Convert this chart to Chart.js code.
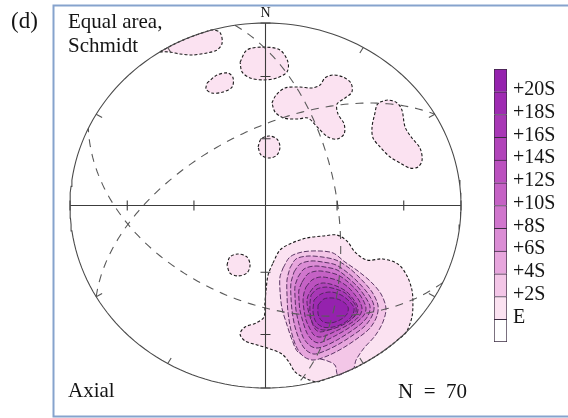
<!DOCTYPE html>
<html>
<head>
<meta charset="utf-8">
<title>Equal area, Schmidt – Axial</title>
<script src="https://cdn.jsdelivr.net/npm/chart.js@4.4.1/dist/chart.umd.min.js"></script>
<style>
  html, body { margin: 0; padding: 0; background: #ffffff; }
  #stage { position: relative; width: 568px; height: 418px; overflow: hidden; }
  #net { position: absolute; left: 0; top: 0; }
  #scale { position: absolute; left: 480px; top: 50px; }
</style>
</head>
<body>
<div id="stage">
  <canvas id="net" width="568" height="418"></canvas>
  <canvas id="scale" width="88" height="310"></canvas>
</div>
<script>
// ---------------- data ----------------
const sampleCount = 70;

// contour levels (boundaries of the colour key, bottom to top)
const levelLabels = ['E', '+2S', '+4S', '+6S', '+8S', '+10S', '+12S', '+14S', '+16S', '+18S', '+20S'];
// fill colour of each band: index 0 = below E, 11 = above +20S
const levelColors = ['#ffffff', '#fbe2f1', '#f3c6e7', '#e7a6dd', '#db8dd5', '#d076cd', '#c562c5',
                     '#bb51bf', '#b144ba', '#a838b6', '#9e2bb2', '#9522ae'];

// plunges marked on the N-S and E-W diameters, and trends marked on the primitive
const axisTickPlunges = [30, 60];
const rimTickTrends = [30, 60, 120, 150, 210, 240, 300, 330];

// great circles (dip direction / dip, degrees)
const planeDipDirections = [81, 205, 330];
const planeDips = [60, 46, 57];

// density contours, in projected net coordinates (primitive radius = 1, x east, y north)
const patchNorthWest = [[-0.540, 0.842], [-0.463, 0.886], [-0.386, 0.922], [-0.309, 0.951], [-0.275, 0.962],
  [-0.233, 0.948], [-0.222, 0.890], [-0.248, 0.852], [-0.299, 0.836], [-0.371, 0.825], [-0.437, 0.830], [-0.491, 0.841]];
const patchNorth = [[-0.130, 0.786], [-0.095, 0.852], [-0.013, 0.868], [0.074, 0.852], [0.115, 0.786],
  [0.110, 0.732], [0.059, 0.699], [-0.013, 0.688], [-0.079, 0.699], [-0.120, 0.732]];
const patchNorthSmall = [[-0.299, 0.671], [-0.248, 0.715], [-0.192, 0.726], [-0.166, 0.699], [-0.171, 0.649],
  [-0.217, 0.622], [-0.274, 0.616], [-0.304, 0.638]];
const patchNorthEast = [[0.033, 0.562], [0.054, 0.605], [0.100, 0.644], [0.176, 0.649], [0.238, 0.644],
  [0.279, 0.660], [0.304, 0.699], [0.345, 0.715], [0.396, 0.704], [0.437, 0.671], [0.442, 0.622],
  [0.407, 0.589], [0.366, 0.556], [0.371, 0.501], [0.402, 0.447], [0.402, 0.392], [0.366, 0.364],
  [0.320, 0.375], [0.269, 0.425], [0.217, 0.479], [0.166, 0.474], [0.095, 0.479], [0.049, 0.512]];
const patchEast = [[0.586, 0.567], [0.627, 0.578], [0.673, 0.562], [0.698, 0.523], [0.714, 0.430],
  [0.749, 0.370], [0.790, 0.315], [0.801, 0.249], [0.780, 0.211], [0.739, 0.205], [0.688, 0.233],
  [0.637, 0.266], [0.586, 0.321], [0.550, 0.370], [0.545, 0.430], [0.560, 0.507], [0.570, 0.551]];
const patchCentre = [[-0.038, 0.321], [-0.023, 0.364], [0.018, 0.381], [0.059, 0.364], [0.074, 0.321],
  [0.059, 0.277], [0.018, 0.260], [-0.023, 0.277]];
const patchWest = [[-0.197, -0.326], [-0.182, -0.282], [-0.141, -0.266], [-0.095, -0.282], [-0.079, -0.326],
  [-0.095, -0.370], [-0.141, -0.386], [-0.182, -0.370]];

// main maximum, SSE quadrant: one ring per level
const mainE = [[0.038, -0.315], [0.074, -0.244], [0.136, -0.205], [0.212, -0.178], [0.294, -0.167],
  [0.366, -0.162], [0.417, -0.195], [0.458, -0.255], [0.519, -0.299], [0.601, -0.293], [0.678, -0.321],
  [0.724, -0.386], [0.749, -0.463], [0.754, -0.534], [0.749, -0.611], [0.720, -0.694], [0.680, -0.733],
  [0.620, -0.785], [0.550, -0.835], [0.470, -0.883], [0.390, -0.921], [0.310, -0.951], [0.260, -0.966],
  [0.202, -0.945], [0.151, -0.912], [0.120, -0.858], [0.084, -0.814], [0.023, -0.786], [-0.043, -0.764],
  [-0.105, -0.742], [-0.130, -0.704], [-0.105, -0.666], [-0.049, -0.644], [-0.008, -0.611], [-0.003, -0.534],
  [0.003, -0.463], [0.013, -0.381]];
const main2S = [[0.090, -0.342], [0.125, -0.282], [0.187, -0.255], [0.269, -0.249], [0.345, -0.260],
  [0.407, -0.310], [0.473, -0.359], [0.540, -0.419], [0.591, -0.485], [0.616, -0.562], [0.601, -0.638],
  [0.560, -0.715], [0.504, -0.781], [0.463, -0.847], [0.450, -0.893], [0.410, -0.912], [0.370, -0.929],
  [0.355, -0.874], [0.304, -0.847], [0.228, -0.830], [0.166, -0.803], [0.136, -0.737], [0.110, -0.655],
  [0.084, -0.562], [0.074, -0.463], [0.074, -0.392]];
const main4S = [[0.125, -0.342], [0.156, -0.293], [0.217, -0.277], [0.289, -0.282], [0.361, -0.299],
  [0.427, -0.342], [0.488, -0.403], [0.545, -0.474], [0.575, -0.545], [0.570, -0.605], [0.535, -0.671],
  [0.473, -0.726], [0.396, -0.781], [0.315, -0.825], [0.243, -0.847], [0.192, -0.825], [0.156, -0.770],
  [0.130, -0.682], [0.115, -0.584], [0.110, -0.490], [0.110, -0.408]];
const main6S = [[0.146, -0.364], [0.176, -0.321], [0.233, -0.304], [0.294, -0.310], [0.361, -0.326],
  [0.422, -0.370], [0.478, -0.425], [0.529, -0.490], [0.555, -0.551], [0.545, -0.605], [0.509, -0.660],
  [0.448, -0.710], [0.376, -0.759], [0.304, -0.797], [0.248, -0.814], [0.207, -0.792], [0.176, -0.742],
  [0.151, -0.666], [0.136, -0.578], [0.130, -0.496], [0.130, -0.425]];
const main8S = [[0.166, -0.392], [0.197, -0.348], [0.248, -0.332], [0.304, -0.337], [0.366, -0.353],
  [0.422, -0.397], [0.473, -0.447], [0.514, -0.507], [0.535, -0.556], [0.524, -0.605], [0.488, -0.649],
  [0.432, -0.693], [0.366, -0.737], [0.304, -0.770], [0.258, -0.781], [0.223, -0.764], [0.192, -0.721],
  [0.171, -0.649], [0.156, -0.573], [0.151, -0.501], [0.151, -0.441]];
const main10S = [[0.187, -0.419], [0.217, -0.375], [0.263, -0.359], [0.315, -0.364], [0.371, -0.381],
  [0.422, -0.419], [0.468, -0.468], [0.499, -0.518], [0.514, -0.562], [0.504, -0.600], [0.468, -0.638],
  [0.417, -0.677], [0.355, -0.715], [0.304, -0.742], [0.269, -0.753], [0.238, -0.737], [0.212, -0.699],
  [0.192, -0.638], [0.176, -0.573], [0.171, -0.512], [0.171, -0.463]];
const main12S = [[0.207, -0.447], [0.238, -0.408], [0.279, -0.392], [0.325, -0.397], [0.376, -0.414],
  [0.422, -0.447], [0.458, -0.490], [0.483, -0.529], [0.494, -0.567], [0.483, -0.600], [0.453, -0.633],
  [0.402, -0.666], [0.350, -0.693], [0.304, -0.715], [0.274, -0.721], [0.248, -0.710], [0.228, -0.677],
  [0.207, -0.627], [0.197, -0.573], [0.192, -0.518], [0.197, -0.479]];
const main14S = [[0.228, -0.474], [0.253, -0.441], [0.289, -0.425], [0.330, -0.430], [0.376, -0.447],
  [0.417, -0.474], [0.448, -0.512], [0.468, -0.545], [0.473, -0.573], [0.463, -0.600], [0.432, -0.627],
  [0.386, -0.655], [0.340, -0.677], [0.304, -0.688], [0.279, -0.693], [0.258, -0.682], [0.243, -0.655],
  [0.228, -0.611], [0.217, -0.567], [0.212, -0.523], [0.217, -0.496]];
const main16S = [[0.233, -0.490], [0.263, -0.458], [0.309, -0.447], [0.361, -0.458], [0.407, -0.479],
  [0.442, -0.518], [0.463, -0.556], [0.458, -0.600], [0.422, -0.638], [0.371, -0.666], [0.315, -0.682],
  [0.274, -0.677], [0.243, -0.649], [0.228, -0.589], [0.228, -0.529]];
const main18S = [[0.248, -0.518], [0.284, -0.485], [0.335, -0.474], [0.386, -0.490], [0.427, -0.523],
  [0.453, -0.562], [0.442, -0.605], [0.402, -0.644], [0.345, -0.666], [0.294, -0.666], [0.258, -0.638],
  [0.243, -0.584]];
const main20S = [[0.269, -0.545], [0.299, -0.512], [0.345, -0.507], [0.391, -0.523], [0.422, -0.556],
  [0.417, -0.595], [0.381, -0.627], [0.330, -0.644], [0.289, -0.633], [0.269, -0.595]];

// [colour band inside the ring, ring], drawn in this order
const contourRings = [
  [1, patchNorthWest], [1, patchNorth], [1, patchNorthSmall], [1, patchNorthEast], [1, patchEast],
  [1, patchCentre], [1, patchWest],
  [1, mainE], [2, main2S], [3, main4S], [4, main6S], [5, main8S], [6, main10S],
  [7, main12S], [8, main14S], [9, main16S], [10, main18S], [11, main20S]
];

// ---------------- projection helpers ----------------
const D2R = Math.PI / 180;
// Schmidt (equal-area) lower-hemisphere projection of a line
function project(trend, plunge) {
  const r = Math.SQRT2 * Math.sin((90 - plunge) * D2R / 2);
  return { x: r * Math.sin(trend * D2R), y: r * Math.cos(trend * D2R) };
}
// trace of a plane on the net
function greatCircle(dipDir, dip) {
  const dd = dipDir * D2R, dp = dip * D2R;
  const s = [Math.sin(dd - Math.PI / 2), Math.cos(dd - Math.PI / 2), 0];
  const d = [Math.sin(dd) * Math.cos(dp), Math.cos(dd) * Math.cos(dp), Math.sin(dp)];
  const pts = [];
  for (let i = 0; i <= 120; i++) {
    const t = i * Math.PI / 120;
    const v = s.map((c, k) => Math.cos(t) * c + Math.sin(t) * d[k]);
    const trend = Math.atan2(v[0], v[1]) / D2R;
    const plunge = Math.asin(Math.max(-1, Math.min(1, v[2]))) / D2R;
    pts.push(project(trend, plunge));
  }
  return pts;
}
const ring = poly => {
  const p = poly.map(([x, y]) => ({ x, y }));
  p.push({ x: poly[0][0], y: poly[0][1] });
  return p;
};

// ---------------- datasets ----------------
const datasets = [];
const add = ds => { ds.order = 5000 - datasets.length; datasets.push(ds); };

contourRings.forEach(([band, poly]) => {
  const outer = band === 1;
  add({
    data: ring(poly), showLine: true, fill: 'shape', tension: 0.32,
    backgroundColor: levelColors[band],
    borderColor: outer ? '#1a1a1a' : '#4a2656',
    borderWidth: outer ? 1.1 : 0.9,
    borderDash: outer ? [3, 2] : [5, 2],
    pointRadius: 0
  });
});

// great circles
planeDipDirections.forEach((dd, i) => {
  add({ data: greatCircle(dd, planeDips[i]), showLine: true, fill: false, tension: 0,
        borderColor: '#5a5a5a', borderWidth: 1.1, borderDash: [8, 7], pointRadius: 0 });
});

// N-S and E-W diameters
const lineStyle = { showLine: true, fill: false, borderColor: '#3c3c3c', borderWidth: 1.1, pointRadius: 0 };
add({ ...lineStyle, data: [{ x: -1, y: 0 }, { x: 1, y: 0 }] });
add({ ...lineStyle, data: [{ x: 0, y: -1 }, { x: 0, y: 1 }] });

// plunge ticks on both diameters (half length 5 px in each direction)
const hx = 5 / 195.5, hy = 5 / 182.5;
axisTickPlunges.forEach(p => {
  const r = project(0, p).y;
  [-r, r].forEach(v => {
    add({ ...lineStyle, data: [{ x: v, y: -hy }, { x: v, y: hy }] });
    add({ ...lineStyle, data: [{ x: -hx, y: v }, { x: hx, y: v }] });
  });
});
// end caps of the diameters
[-1, 1].forEach(v => {
  add({ ...lineStyle, data: [{ x: v, y: -hy }, { x: v, y: hy }] });
  add({ ...lineStyle, data: [{ x: -hx, y: v }, { x: hx, y: v }] });
});
// trend ticks on the primitive
rimTickTrends.forEach(t => {
  const a = project(t, 0), b = { x: a.x * 0.965, y: a.y * 0.965 };
  add({ ...lineStyle, borderColor: '#555', data: [a, b] });
});

// primitive circle
const primitive = [];
for (let a = 0; a <= 360; a += 2) primitive.push(project(a, 0));
add({ data: primitive, showLine: true, fill: false, borderColor: '#4a4a4a', borderWidth: 1.1, pointRadius: 0 });

// ---------------- labels and frame ----------------
const annotate = {
  id: 'annotate',
  afterDraw(chart) {
    const ctx = chart.ctx;
    const xs = chart.scales.x, ys = chart.scales.y;
    ctx.save();
    ctx.strokeStyle = '#86a3cd';
    ctx.lineWidth = 2;
    ctx.beginPath();
    ctx.moveTo(600, 5.5); ctx.lineTo(53.5, 5.5); ctx.lineTo(53.5, 416.5); ctx.lineTo(600, 416.5);
    ctx.stroke();

    ctx.fillStyle = '#141414';
    ctx.textBaseline = 'alphabetic';
    ctx.textAlign = 'left';
    ctx.font = '23px "Liberation Serif"';
    ctx.fillText('(d)', 11, 28);
    ctx.font = '21px "Liberation Serif"';
    ctx.fillText('Equal area,', 68, 28);
    ctx.fillText('Schmidt', 68, 52);
    ctx.fillText('Axial', 68, 397);
    ctx.fillText('N\u2002=\u2002' + sampleCount, 398, 398);

    ctx.font = '14px "Liberation Serif"';
    ctx.textAlign = 'center';
    ctx.fillText('N', xs.getPixelForValue(0), ys.getPixelForValue(1) - 6);
    ctx.restore();
  }
};

new Chart(document.getElementById('net'), {
  type: 'scatter',
  data: { datasets },
  options: {
    responsive: false,
    animation: false,
    events: [],
    layout: { padding: { left: 64.135, right: 101.135, top: 17.525, bottom: 24.525 } },
    plugins: { legend: { display: false }, tooltip: { enabled: false } },
    elements: { point: { radius: 0, hoverRadius: 0 } },
    scales: {
      x: { type: 'linear', min: -1.03, max: 1.03, display: false },
      y: { type: 'linear', min: -1.03, max: 1.03, display: false }
    }
  },
  plugins: [annotate]
});

// ---------------- colour key ----------------
new Chart(document.getElementById('scale'), {
  type: 'bar',
  data: {
    labels: [''],
    datasets: levelColors.map((c, i) => ({
      data: [1], backgroundColor: c, borderColor: '#3a2a40', borderWidth: 1,
      borderSkipped: i === 0 ? false : 'start', barPercentage: 1, categoryPercentage: 1
    }))
  },
  options: {
    responsive: false,
    animation: false,
    events: [],
    layout: { padding: { left: 14, top: 19, bottom: 17, right: 0 } },
    plugins: { legend: { display: false }, tooltip: { enabled: false } },
    scales: {
      x: { stacked: true, display: false },
      y: {
        stacked: true, position: 'right', min: 0, max: levelColors.length,
        grid: { display: false, drawTicks: false }, border: { display: false },
        afterFit(scale) { scale.width = 61; },
        ticks: {
          stepSize: 1, autoSkip: false, padding: 6, color: '#141414', labelOffset: -2,
          font: { family: 'Liberation Serif', size: 20 },
          callback: v => (v >= 1 && v <= levelLabels.length) ? levelLabels[v - 1] : ''
        }
      }
    }
  }
});
</script>
</body>
</html>
